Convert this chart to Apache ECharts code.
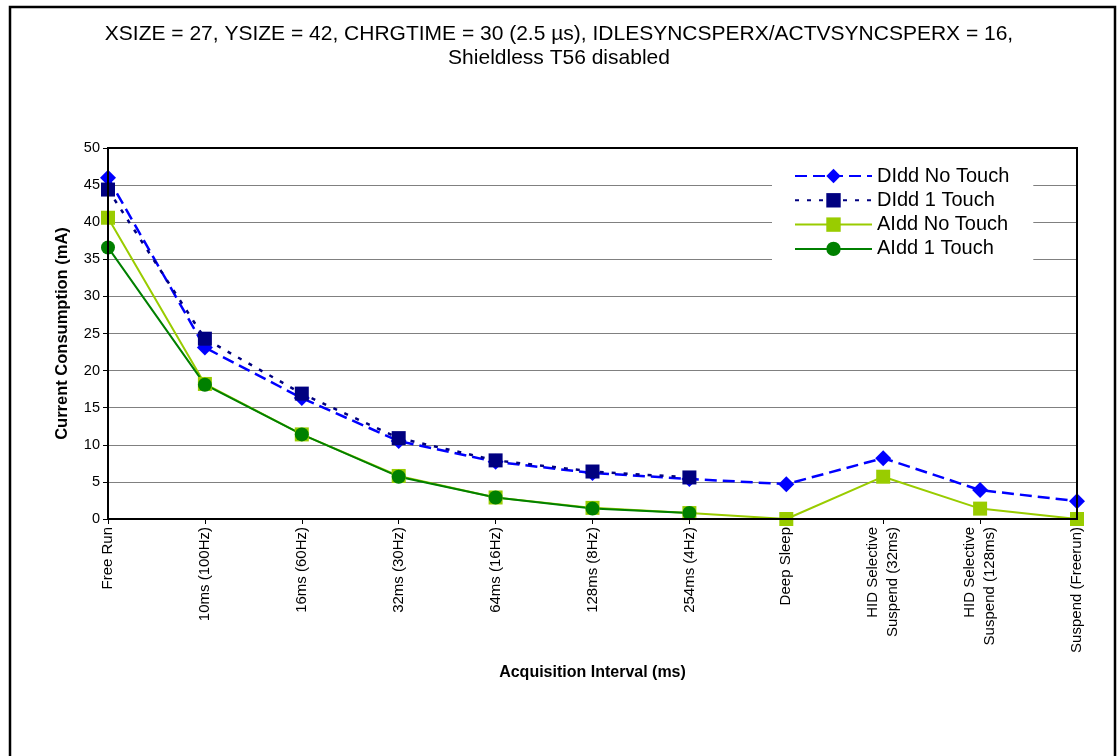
<!DOCTYPE html>
<html>
<head>
<meta charset="utf-8">
<script src="https://cdn.jsdelivr.net/npm/echarts@6/dist/echarts.min.js"></script>
<style>
  html, body { margin: 0; padding: 0; background: #ffffff; }
  #chart { width: 1118px; height: 756px; }
</style>
</head>
<body>
<div id="chart"></div>
<script>
// Acquisition interval categories
const categories = [
  'Free Run', '10ms (100Hz)', '16ms (60Hz)', '32ms (30Hz)', '64ms (16Hz)',
  '128ms (8Hz)', '254ms (4Hz)', 'Deep Sleep',
  'HID Selective\nSuspend (32ms)', 'HID Selective\nSuspend (128ms)', 'Suspend (Freerun)'
];

// Current consumption in mA
const diddNoTouch = [46.0, 23.1, 16.3, 10.5, 7.7, 6.2, 5.4, 4.7, 8.2, 3.9, 2.4];
const didd1Touch  = [44.4, 24.3, 16.9, 10.9, 7.9, 6.4, 5.6];
const aiddNoTouch = [40.6, 18.2, 11.4, 5.8, 2.9, 1.5, 0.8, 0.0, 5.7, 1.4, 0.0];
const aidd1Touch  = [36.6, 18.1, 11.4, 5.7, 2.9, 1.4, 0.8];

const yTicks = { min: 0, max: 50, interval: 5 };

const chart = echarts.init(document.getElementById('chart'), null, { renderer: 'canvas' });
const font = 'Liberation Sans, Arial, sans-serif';

chart.setOption({
  backgroundColor: '#ffffff',
  animation: false,
  title: {
    text: 'XSIZE = 27, YSIZE = 42, CHRGTIME = 30 (2.5 µs), IDLESYNCSPERX/ACTVSYNCSPERX = 16,\nShieldless T56 disabled',
    left: 'center',
    top: 17,
    textStyle: { fontFamily: font, fontSize: 21, fontWeight: 'normal', color: '#000', lineHeight: 24 }
  },
  graphic: [
    {
      type: 'rect',
      shape: { x: 10, y: 7, width: 1105, height: 760 },
      style: { fill: 'none', stroke: '#000', lineWidth: 2.5 },
      silent: true, z: 100
    },
    {
      type: 'rect',
      shape: { x: 108, y: 148, width: 969, height: 371 },
      style: { fill: 'none', stroke: '#000', lineWidth: 2 },
      silent: true, z: 100
    }
  ],
  legend: {
    orient: 'vertical',
    left: 772,
    top: 164,
    itemWidth: 77,
    itemHeight: 18,
    itemGap: 4.3,
    padding: [2, 24, 2, 22],
    backgroundColor: '#ffffff',
    textStyle: { fontFamily: font, fontSize: 20, color: '#000' },
    data: ['DIdd No Touch', 'DIdd 1 Touch', 'AIdd No Touch', 'AIdd 1 Touch']
  },
  grid: { left: 108, right: 41, top: 148, bottom: 237, containLabel: false },
  xAxis: {
    type: 'category',
    data: categories,
    boundaryGap: false,
    name: 'Acquisition Interval (ms)',
    nameLocation: 'middle',
    nameGap: 146,
    nameTextStyle: { fontFamily: font, fontSize: 16, fontWeight: 'bold', color: '#000' },
    axisLine: { lineStyle: { color: '#000', width: 2 } },
    axisTick: { show: true, alignWithLabel: true, length: 5, lineStyle: { color: '#000', width: 1 } },
    axisLabel: {
      rotate: 90, interval: 0, margin: 8,
      fontFamily: font, fontSize: 15, color: '#000', lineHeight: 20
    },
    splitLine: { show: false }
  },
  yAxis: {
    type: 'value',
    min: yTicks.min, max: yTicks.max, interval: yTicks.interval,
    name: 'Current Consumption (mA)',
    nameLocation: 'middle',
    nameGap: 37,
    nameTextStyle: { fontFamily: font, fontSize: 16.5, fontWeight: 'bold', color: '#000' },
    axisLine: { show: true, lineStyle: { color: '#000', width: 2 } },
    axisTick: { show: true, length: 5, lineStyle: { color: '#000' } },
    axisLabel: { fontFamily: font, fontSize: 14.5, color: '#000', margin: 8 },
    splitLine: { show: true, lineStyle: { color: '#808080', width: 1.2 } }
  },
  series: [
    {
      name: 'DIdd No Touch', type: 'line', data: diddNoTouch,
      symbol: 'diamond', symbolSize: 16, showAllSymbol: true,
      itemStyle: { color: '#0000FF' },
      lineStyle: { color: '#0000FF', width: 2.5, type: [12, 6] }
    },
    {
      name: 'DIdd 1 Touch', type: 'line', data: didd1Touch,
      symbol: 'rect', symbolSize: 14, showAllSymbol: true,
      itemStyle: { color: '#000080' },
      lineStyle: { color: '#000080', width: 2.5, type: [4, 8] }
    },
    {
      name: 'AIdd No Touch', type: 'line', data: aiddNoTouch,
      symbol: 'rect', symbolSize: 14, showAllSymbol: true,
      itemStyle: { color: '#99CC00' },
      lineStyle: { color: '#99CC00', width: 2 }
    },
    {
      name: 'AIdd 1 Touch', type: 'line', data: aidd1Touch,
      symbol: 'circle', symbolSize: 14, showAllSymbol: true,
      itemStyle: { color: '#008000' },
      lineStyle: { color: '#008000', width: 2 }
    }
  ]
});
</script>
</body>
</html>
